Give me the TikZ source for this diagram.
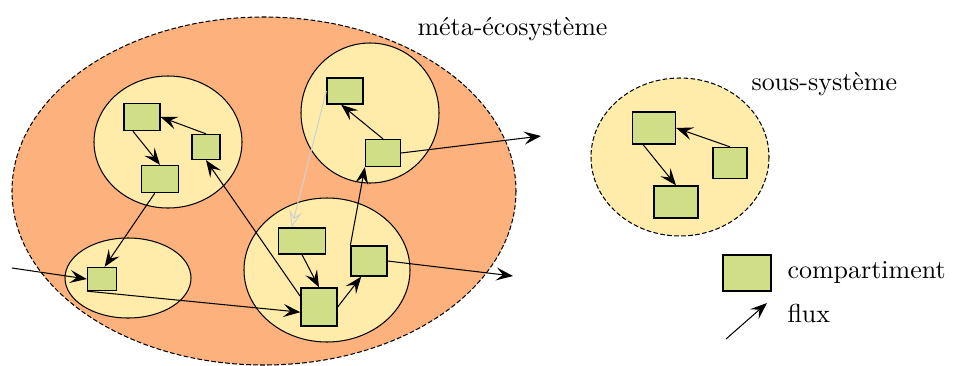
\documentclass[tikz,border=0pt]{standalone}
\usepackage{fontspec}
\usetikzlibrary{arrows.meta}
\definecolor{metaorange}{RGB}{253,178,125}
\definecolor{subyellow}{RGB}{255,236,170}
\definecolor{cptgreen}{RGB}{207,222,135}
\tikzset{
  cpt/.style 2 args={draw,fill=cptgreen,line width=0.5pt,inner sep=0pt,
    minimum width=#1*0.385pt,minimum height=#2*0.385pt},
  flow/.style={-{Stealth[length=6.5pt,width=5pt,inset=2.6pt]}},
  lbl/.style={inner sep=0pt,anchor=base west}
}
\begin{document}
\begin{tikzpicture}[x=0.385pt,y=-0.385pt]
\useasboundingbox (0,0) rectangle (961,365);
\filldraw[fill=metaorange,dash pattern=on 1.8pt off 0.9pt] (264,191) ellipse [x radius=252, y radius=174];
\foreach \x/\y/\a/\b in {168/142/74/66,370/113/69/70,128/278/63/40,327/270/83/72}
  \filldraw[fill=subyellow] (\x,\y) ellipse [x radius=\a, y radius=\b];
\filldraw[fill=subyellow,dash pattern=on 1.8pt off 0.9pt] (680,157) ellipse [x radius=89, y radius=79];
\foreach \n/\x/\y/\w/\h in {a1/142/117/36/27,a2/206/147/28/25,a3/160/179/37/27,
  b1/345/91/36/26,b2/383/153/35/27,c1/102/279/29/23,
  d1/302/241/47/26,d2/319/307/36/38,d3/369/261/36/30,
  s1/654/128/43/32,s2/730/163/34/31,s3/676/202/44/32,lgbox/747/273/48/36}
  \node[cpt={\w}{\h}] (\n) at (\x,\y) {};
\coordinate (in) at (12,268);
\coordinate (out1) at (541,136);
\coordinate (out2) at (513,276);
\coordinate (lga) at (726,339);
\coordinate (lgb) at (767,303);
\draw[flow] (a2.north) -- (a1.east);
\draw[flow] ([xshift=-3.5pt]a1.south) -- (a3.north);
\draw[flow] ([xshift=-2pt]a3.south) -- ([xshift=1pt]c1.north);
\draw[flow] (in) -- (c1.west);
\draw[flow] (c1.south west) -- ([yshift=-2pt]d2.west);
\draw[flow] ([yshift=-3.5pt]d2.north west) -- (a2.south);
\draw[flow] (d1.south) -- (d2.north);
\draw[flow] (d2.east) -- ([xshift=-3pt]d3.south);
\draw[flow] (d3.north west) -- (b2.south west);
\draw[flow] (b2.north) -- ([xshift=-1.5pt]b1.south);
\draw[flow] (b2.east) -- (out1);
\draw[flow] (d3.east) -- (out2);
\draw[-{Stealth[open,length=6.5pt,width=5pt,inset=2.6pt]},black!18] (b1.west) -- ([xshift=-4pt]d1.north);
\draw[flow] (s2.north) -- (s1.east);
\draw[flow] ([xshift=-4.2pt]s1.south) -- (s3.north);
\draw[flow] (lga) -- (lgb);
\node[lbl] (meta) at (417,35) {méta-écosystème};
\node[lbl] (sous) at (751,90) {sous-système};
\node[lbl] (cpttxt) at (787,278) {compartiment};
\node[lbl] (fluxtxt) at (787,322) {flux};
\end{tikzpicture}
\end{document}
